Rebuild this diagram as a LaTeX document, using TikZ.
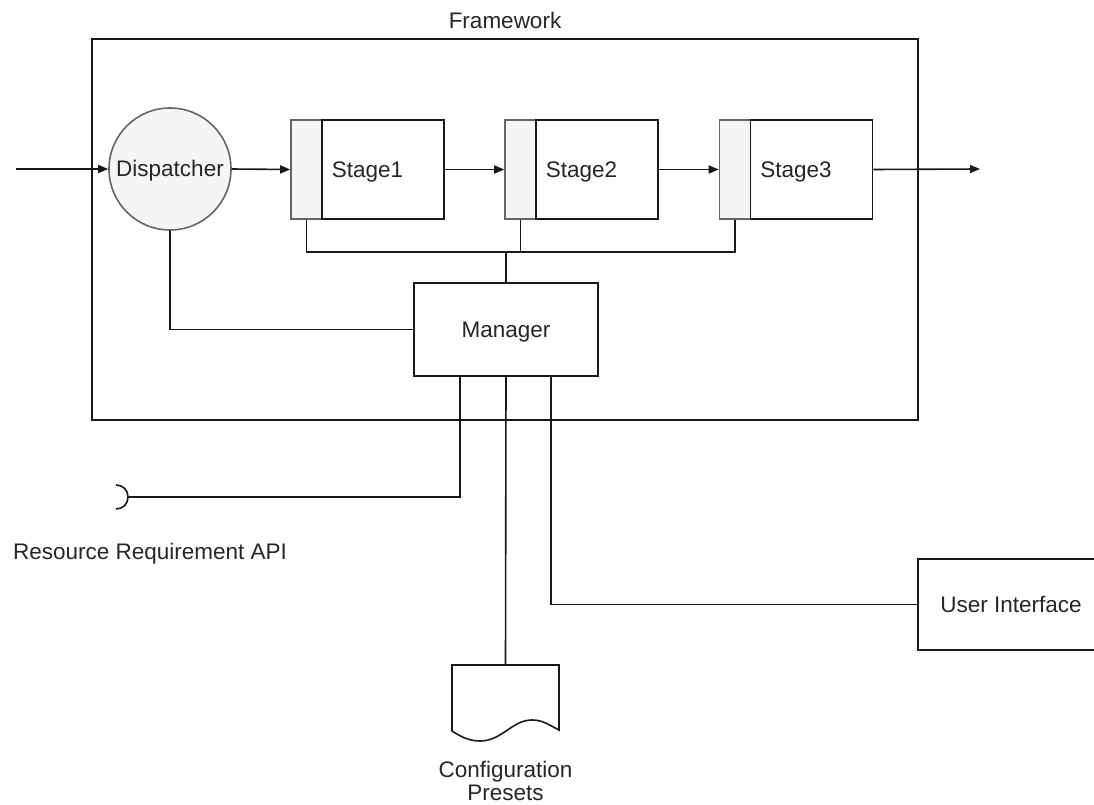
\documentclass[tikz,border=0pt]{standalone}
\usepackage{fontspec}
\setmainfont{Liberation Sans}
\usetikzlibrary{arrows.meta,calc}
\definecolor{lgray}{HTML}{F5F5F5}
\definecolor{mgray}{HTML}{666666}
\definecolor{txt}{HTML}{262626}
\begin{document}
\begin{tikzpicture}[x=1pt,y=-1pt,
  every node/.style={font=\fontsize{22.5}{25}\selectfont, text=txt, inner sep=0pt},
  lbl/.style={text height=16pt, text depth=0pt},
  ln/.style={line width=1.6pt, black!90},
  arr/.style={ln, -{Triangle[length=10pt,width=8pt]}},
  box/.style={draw=black!90, line width=1.6pt, fill=white, rectangle, anchor=center},
  tab/.style={draw=mgray, line width=1.6pt, fill=lgray, rectangle, minimum width=31pt, minimum height=99pt},
  stagebox/.style={box, minimum width=122pt, minimum height=99pt}]
\useasboundingbox (0,0) rectangle (1094,805);
\clip (0,0) rectangle (1094,805);
\fill[white] (0,0) rectangle (1094,805);
% framework
\node[box, fill=none, minimum width=826pt, minimum height=381pt] (fw) at (505,229.5) {};
\node[lbl] (fwl) at (505,21) {Framework};
% dispatcher
\node[circle, draw=mgray, fill=lgray, line width=1.6pt, minimum size=122pt] (disp) at (170,169) {};
\node[lbl] (displ) at (disp.center) {Dispatcher};
% stages
\node[tab] (g1) at (306.5,169.5) {};
\node[stagebox] (s1) at (383,169.5) {};
\node[lbl] (s1l) at (367.5,170) {Stage1};
\node[tab] (g2) at (520.5,169.5) {};
\node[stagebox] (s2) at (597,169.5) {};
\node[lbl] (s2l) at (581.5,170) {Stage2};
\node[tab] (g3) at (735,169.5) {};
\node[stagebox] (s3) at (811.5,169.5) {};
\node[lbl] (s3l) at (796,170) {Stage3};
% manager
\node[box, minimum width=184pt, minimum height=93pt] (mgr) at (506,329.5) {};
\node[lbl] (mgrl) at (mgr.center) {Manager};
% user interface
\node[box, minimum width=186pt, minimum height=91pt] (ui) at (1011,604.5) {};
\node[lbl] (uil) at (ui.center) {User Interface};
% configuration presets
\node[minimum width=107pt, minimum height=66pt] (cfg) at (505.5,698) {};
\draw[ln, fill=white] (452,665) -- (559,665) -- (559,730)
  .. controls (549,725) and (543,720) .. (532,720)
  .. controls (512,720) and (502,741) .. (480,741)
  .. controls (468,741) and (460,736) .. (452,731) -- cycle;
\node[lbl] (cfgl1) at (505.5,769) {Configuration};
\node[lbl] (cfgl2) at (505.5,792) {Presets};
% API socket
\coordinate (api) at (128,497);
\draw[ln] (116,485) .. controls (123,485) and (128,490) .. (api) .. controls (128,504) and (123,509) .. (116,509);
\node[lbl] (apil) at (150,551) {Resource Requirement API};
% connectors
\coordinate (in) at (16,169);
\coordinate (out) at (980,169);
\draw[arr] (in) -- (disp.west);
\draw[arr] (disp.east) -- (g1.west);
\draw[arr] (s1.east) -- (g2.west);
\draw[arr] (s2.east) -- (g3.west);
\draw[arr] (s3.east) -- (out);
\draw[ln] (g1.south) -- ++(0,32) coordinate (bus) -| (g3.south);
\draw[ln] (g2.south) -- (g2.south |- bus);
\draw[ln] (mgr.north) -- (mgr.north |- bus);
\draw[ln] (disp.south) |- (mgr.west);
\draw[ln] ([xshift=-46pt]mgr.south) |- (api);
\draw[ln] (mgr.south) -- (cfg.north);
\draw[ln] ([xshift=45pt]mgr.south) |- (ui.west);
\end{tikzpicture}
\end{document}
